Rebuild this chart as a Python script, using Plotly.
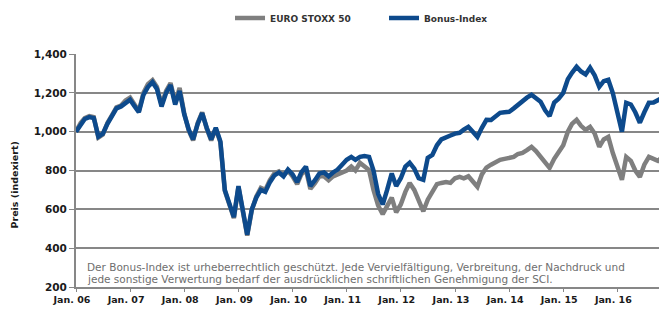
import pandas as pd
import plotly.graph_objects as go

# Monthly observations, Jan 2006 .. Dec 2016
dates = pd.date_range("2006-01-01", periods=132, freq="MS")

bonus_index = [
    1000, 1040, 1065, 1075, 1070, 975, 990, 1040, 1080, 1120, 1130, 1150,
    1165, 1130, 1100, 1190, 1230, 1255, 1220, 1130, 1200, 1240, 1140, 1210,
    1090, 1010, 960, 1040, 1095, 1020, 960, 1020, 950, 700, 620, 560,
    720, 590, 470, 600, 660, 700, 690, 740, 775, 790, 770, 805,
    780, 740, 790, 820, 720, 750, 785, 790, 770, 790, 805, 830,
    855, 870, 855, 870, 875, 870, 800, 680, 625, 700, 785, 720,
    760, 820, 840, 810, 760, 752, 865, 880, 930, 960, 968, 980,
    990, 994, 1010, 1025, 1000, 973, 1020, 1061, 1060, 1080, 1097, 1100,
    1102, 1120, 1138, 1160, 1175, 1190, 1170, 1154, 1110, 1080, 1150, 1170,
    1200, 1270, 1303, 1334, 1310, 1295, 1329, 1290, 1231, 1260, 1267, 1200,
    1100, 1000, 1149, 1140, 1100, 1046, 1100, 1149, 1150, 1165, 1175, 1215,
]

euro_stoxx_50 = [
    1000, 1045, 1070, 1080, 1075, 970, 985, 1045, 1085, 1125, 1135, 1160,
    1175, 1140, 1105, 1200, 1245, 1265, 1230, 1140, 1210, 1250, 1150, 1225,
    1095, 1005, 955, 1045, 1100, 1015, 955, 1015, 945, 695, 615, 555,
    715, 585, 465, 595, 665, 710, 700, 750, 785, 795, 775, 800,
    770, 730, 780, 805, 705, 735, 770, 770, 750, 770, 780, 790,
    800, 820, 800, 839, 820, 803, 700, 620, 575, 620, 660, 585,
    625, 690, 736, 700, 640, 590, 650, 690, 730, 736, 740, 736,
    760, 767, 760, 770, 745, 716, 780, 815, 830, 845, 855, 860,
    865, 870, 885, 891, 905, 922, 900, 870, 840, 813, 860, 891,
    930, 1000, 1040, 1061, 1030, 1009, 1025, 990, 922, 960, 973, 891,
    820, 752, 870, 850, 800, 767, 830, 870, 860, 850, 870, 891,
]

tick_dates = pd.date_range("2006-01-01", periods=11, freq="YS")
tick_labels = ["Jan. 06", "Jan. 07", "Jan. 08", "Jan. 09", "Jan. 10", "Jan. 11",
               "Jan. 12", "Jan. 13", "Jan. 14", "Jan. 15", "Jan. 16"]
y_ticks = [200, 400, 600, 800, 1000, 1200, 1400]

note_line1 = ("Der Bonus-Index ist urheberrechtlich geschützt. Jede Vervielfältigung, "
              "Verbreitung, der Nachdruck und")
note_line2 = ("jede sonstige Verwertung bedarf der ausdrücklichen schriftlichen "
              "Genehmigung der SCI.")

FONT = "DejaVu Sans"
GRID = "#878787"

fig = go.Figure()
fig.add_trace(go.Scatter(x=dates, y=euro_stoxx_50, name="EURO STOXX 50", mode="lines",
                         line=dict(color="#7f7f7f", width=4.5)))
fig.add_trace(go.Scatter(x=dates, y=bonus_index, name="Bonus-Index", mode="lines",
                         line=dict(color="#0d4a8c", width=4.5)))

# the page body adds an 8px offset; margins compensate for it
fig.update_layout(
    width=667, height=309,
    margin=dict(l=68, r=8, t=46, b=30, autoexpand=False),
    paper_bgcolor="white", plot_bgcolor="white",
    font=dict(family=FONT, color="#1a1a1a"),
    showlegend=True,
    legend=dict(orientation="h", x=0.2606, xanchor="left", y=0.9676, yref="container",
                yanchor="middle", font=dict(size=9, family=FONT, weight="bold", color="#333"),
                bgcolor="rgba(0,0,0,0)", itemwidth=30, entrywidth=109),
    xaxis=dict(
        type="date", range=[dates[0], dates[-1]], automargin=False,
        tickvals=list(tick_dates), ticktext=tick_labels,
        tickfont=dict(size=9.5, family=FONT, weight="bold", color="#1a1a1a"),
        showgrid=False, showline=True, linecolor=GRID, linewidth=2,
        ticks="outside", ticklen=3, tickcolor=GRID, tickwidth=1,
        ticklabelshift=-4, ticklabelstandoff=0, zeroline=False,
    ),
    yaxis=dict(
        range=[200, 1400], tickvals=y_ticks, tickformat=",d", automargin=False,
        tickfont=dict(size=10.5, family=FONT, weight="bold", color="#1a1a1a"),
        showgrid=True, gridcolor=GRID, gridwidth=2,
        showline=True, linecolor=GRID, linewidth=2,
        ticks="outside", ticklen=5, tickcolor=GRID, tickwidth=1,
        zeroline=False,
    ),
    annotations=[
        dict(text="Preis (indexiert)", textangle=-90, xref="paper", yref="paper",
             x=-0.104, y=0.438, xanchor="center", yanchor="middle", showarrow=False,
             font=dict(size=9.5, family=FONT, weight="bold", color="#1a1a1a")),
        dict(text=note_line1, xref="paper", yref="paper", x=0.0152, y=0.0837,
             xanchor="left", yanchor="middle", showarrow=False,
             font=dict(size=10.5, family=FONT, color="#6e6e6e")),
        dict(text=note_line2, xref="paper", yref="paper", x=0.0152, y=0.0335,
             xanchor="left", yanchor="middle", showarrow=False,
             font=dict(size=10.5, family=FONT, color="#6e6e6e")),
    ],
)

fig.write_html("out.html")
